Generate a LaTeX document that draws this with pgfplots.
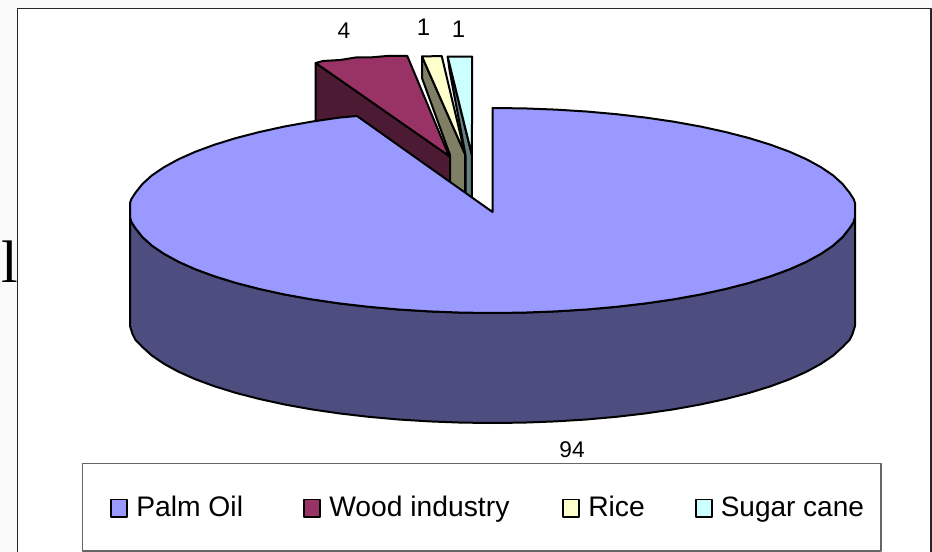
\documentclass[border=0pt]{standalone}
\usepackage{fontspec}
\setmainfont{Liberation Sans}
\newfontfamily\serifl{Liberation Serif}
\usepackage{pgfplots}
\pgfplotsset{compat=1.18}
\definecolor{palm}{HTML}{9999FF}
\definecolor{palmd}{HTML}{4D4D7F}
\definecolor{wood}{HTML}{993366}
\definecolor{woodd}{HTML}{4C1A33}
\definecolor{rice}{HTML}{FFFFCC}
\definecolor{riced}{HTML}{7F7F66}
\definecolor{sugar}{HTML}{CCFFFF}
\definecolor{sugard}{HTML}{667F7F}
\begin{document}
\begin{tikzpicture}
\begin{axis}[
  scale only axis, width=699pt, height=414pt,
  xmin=0, xmax=932, ymin=0, ymax=552, y dir=reverse,
  hide axis, clip=true,
  every axis plot/.append style={line join=round},
]
% page background and chart frame
\addplot[fill=black!2, draw=none] coordinates {(0,0)(932,0)(932,552)(0,552)} --cycle;
\addplot[fill=white, draw=black!85, line width=1.2pt] coordinates {(17.5,8.5)(931,8.5)(931,560)(17.5,560)} --cycle;
% wood industry
\addplot[fill=woodd, draw=black, line width=1.5pt] coordinates {(315.7,63)(450,156)(450,186)(315.7,125)} --cycle;
\addplot[fill=wood, draw=black, line width=1.5pt] coordinates {(315.7,63)(323,61)(340,60)(357,57.3)(372,57.3)(386.7,56)(407.3,56)(449,156)} --cycle;
% rice
\addplot[fill=riced, draw=black, line width=1.5pt] coordinates {(422,56.5)(465,154)(465,196)(450,186)(450,155)(422,78)} --cycle;
\addplot[fill=rice, draw=black, line width=1.5pt] coordinates {(422,56.5)(441.7,56)(465,154)} --cycle;
% sugar cane
\addplot[fill=sugard, draw=black, line width=1.5pt] coordinates {(447.7,56.7)(471.9,155)(471.9,200)(465.5,196)(465.5,155)(449.5,70)} --cycle;
\addplot[fill=sugar, draw=black, line width=1.5pt] coordinates {(447.7,56.7)(472.2,56.7)(471.9,155)} --cycle;
% palm oil: outer wall
\addplot[fill=palmd, draw=black, line width=1.5pt] coordinates {
(855,217)(853.6,222)(849.5,228.3)(842.6,237.0)(833.1,245.6)(821.0,253.8)(806.4,261.8)(789.5,269.3)(770.2,276.4)(748.8,283.0)(725.5,289.0)(700.4,294.5)(673.8,299.3)(645.7,303.4)(616.5,306.8)(586.3,309.5)(555.4,311.4)(524.1,312.6)(492.5,313)
(460.9,312.6)(429.6,311.4)(398.7,309.5)(368.5,306.8)(339.3,303.4)(311.2,299.3)(284.6,294.5)(259.5,289.0)(236.2,283.0)(214.8,276.4)(195.5,269.3)(178.6,261.8)(164.0,253.8)(151.9,245.6)(142.4,237.0)(135.5,228.3)(131.4,222)(130,217)
(130,326)(132.5,334)(135.5,340)(142.4,347.0)(151.9,355.6)(164.0,363.8)(178.6,371.8)(195.5,379.3)(214.8,386.4)(236.2,393.0)(259.5,399.0)(284.6,404.5)(311.2,409.3)(339.3,413.4)(368.5,416.8)(398.7,419.5)(429.6,421.4)(460.9,422.6)(492.5,423)
(524.1,422.6)(555.4,421.4)(586.3,419.5)(616.5,416.8)(645.7,413.4)(673.8,409.3)(700.4,404.5)(725.5,399.0)(748.8,393.0)(770.2,386.4)(789.5,379.3)(806.4,371.8)(821.0,363.8)(833.1,355.6)(842.6,347.0)(849.5,340)(852.5,334)(855,326)
} --cycle;
% palm oil: top
\addplot[fill=palm, draw=black, line width=1.5pt] coordinates {
(492.5,212)(492.5,108)(524.1,108.4)(555.4,109.6)(586.3,111.5)(616.5,114.2)(645.7,117.6)(673.8,121.7)(700.4,126.5)(725.5,132.0)(748.8,138.0)(770.2,144.6)(789.5,151.7)(806.4,159.2)(821.0,167.2)(833.1,175.4)(842.6,184.0)(849.5,192.7)(853.6,199)(855,203)(855,217)
(853.6,222)(849.5,228.3)(842.6,237.0)(833.1,245.6)(821.0,253.8)(806.4,261.8)(789.5,269.3)(770.2,276.4)(748.8,283.0)(725.5,289.0)(700.4,294.5)(673.8,299.3)(645.7,303.4)(616.5,306.8)(586.3,309.5)(555.4,311.4)(524.1,312.6)(492.5,313)
(460.9,312.6)(429.6,311.4)(398.7,309.5)(368.5,306.8)(339.3,303.4)(311.2,299.3)(284.6,294.5)(259.5,289.0)(236.2,283.0)(214.8,276.4)(195.5,269.3)(178.6,261.8)(164.0,253.8)(151.9,245.6)(142.4,237.0)(135.5,228.3)(131.4,222)(130,217)
(130,203)(131.4,199)(135.5,192.7)(142.4,184.0)(151.9,175.4)(164.0,167.2)(178.6,159.2)(195.5,151.7)(214.8,144.6)(236.2,138.0)(259.5,132.0)(284.6,126.5)(311.2,121.7)(339.3,117.6)(357,116)
} --cycle;
% legend
\addplot[fill=white, draw=black!60, line width=0.8pt] coordinates {(82.7,463.7)(881,463.7)(881,551)(82.7,551)} --cycle;
\addplot[fill=palm, draw=black, line width=1.4pt] coordinates {(111,499.5)(127,499.5)(127,517)(111,517)} --cycle;
\addplot[fill=wood, draw=black, line width=1.4pt] coordinates {(304.3,499.5)(320.3,499.5)(320.3,517)(304.3,517)} --cycle;
\addplot[fill=rice, draw=black, line width=1.4pt] coordinates {(563,499.5)(579,499.5)(579,517)(563,517)} --cycle;
\addplot[fill=sugar, draw=black, line width=1.4pt] coordinates {(695.6,499.5)(711.6,499.5)(711.6,517)(695.6,517)} --cycle;
\node[anchor=base west, inner sep=0pt, font=\fontsize{21.2}{25}\selectfont] at (axis cs:136,516) {Palm Oil};
\node[anchor=base west, inner sep=0pt, font=\fontsize{21.2}{25}\selectfont] at (axis cs:329,516) {Wood industry};
\node[anchor=base west, inner sep=0pt, font=\fontsize{21.2}{25}\selectfont] at (axis cs:588,516) {Rice};
\node[anchor=base west, inner sep=0pt, font=\fontsize{21}{25}\selectfont] at (axis cs:720.5,516) {Sugar cane};
% data labels
\node[font=\fontsize{17}{20}\selectfont] at (axis cs:344,31) {4};
\node[font=\fontsize{18}{20}\selectfont] at (axis cs:423.5,27) {1};
\node[font=\fontsize{18}{20}\selectfont] at (axis cs:458.5,29) {1};
\node[font=\fontsize{17}{20}\selectfont] at (axis cs:572,450) {94};
% clipped text from the slide behind the chart
\node[anchor=base, inner sep=0pt, font=\serifl\fontsize{45}{50}\selectfont] at (axis cs:9.5,283) {l};
\end{axis}
\end{tikzpicture}
\end{document}
